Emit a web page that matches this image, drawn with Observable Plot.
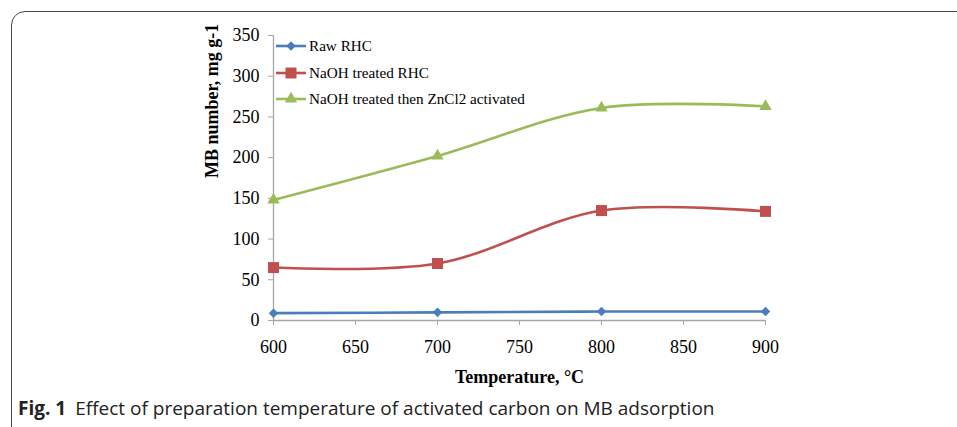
<!DOCTYPE html>
<html>
<head>
<meta charset="utf-8">
<script src="https://cdn.jsdelivr.net/npm/d3@7"></script>
<script src="https://cdn.jsdelivr.net/npm/@observablehq/plot@0.6"></script>
<style>
  html, body { margin: 0; padding: 0; background: #fff; }
  #wrap { position: relative; width: 957px; height: 427px; overflow: hidden; }
  #frame { position: absolute; left: 11px; top: 11px; width: 1200px; height: 800px;
           border: 1.3px solid #4a4a4a; border-top-left-radius: 14px; box-sizing: border-box; }
  #chart { position: absolute; left: 0; top: 0; }
  #legend { position: absolute; left: 276px; top: 35px; font-family: "Liberation Serif", serif; font-size: 15.2px; color: #000; }
  .row { position: absolute; left: 0; height: 22px; display: flex; align-items: center; white-space: nowrap; }
  .row svg { display: block; margin-right: 2px; }
  #caption { position: absolute; left: 18px; top: 395px; font-family: "Open Sans", sans-serif; font-size: 19px; color: #222; white-space: nowrap; letter-spacing: 0px; }
  #caption b { font-weight: 700; margin-right: 9px; }
</style>
</head>
<body>
<div id="wrap">
  <div id="frame"></div>
  <div id="chart"></div>
  <div id="legend"></div>
  <div id="caption"><b>Fig. 1</b>Effect of preparation temperature of activated carbon on MB adsorption</div>
</div>
<script>
const temperatures = [600, 700, 800, 900];
const seriesNames = ["Raw RHC", "NaOH treated RHC", "NaOH treated then ZnCl2 activated"];
const rawRHC = [9, 10, 11, 11];
const naohRHC = [65, 70, 135, 134];
const naohZnCl2 = [148, 202, 261, 263];
const xTicks = [600, 650, 700, 750, 800, 850, 900];
const yTicks = [0, 50, 100, 150, 200, 250, 300, 350];
const colors = ["#4a7ebb", "#c0504d", "#9bbb59"];
const symbols = ["diamond2", "square", "triangle"];
const radii = [4.3, 6.2, 4.6];

const seriesValues = [rawRHC, naohRHC, naohZnCl2];
const data = seriesValues.flatMap((vals, i) =>
  vals.map((v, j) => ({series: seriesNames[i], t: temperatures[j], v}))
);

const W = 957, H = 395;
const plot = Plot.plot({
  width: W,
  height: H,
  marginLeft: 273,
  marginRight: 192,
  marginTop: 35,
  marginBottom: H - 320,
  style: {fontFamily: "Liberation Serif, serif", fontSize: "18px", color: "#000", background: "transparent"},
  x: {domain: [600, 900]},
  y: {domain: [0, 350]},
  color: {domain: seriesNames, range: colors},
  symbol: {domain: seriesNames, range: symbols},
  marks: [
    Plot.ruleX([600], {stroke: "#a6a6a6", strokeWidth: 1.3}),
    Plot.ruleY([0], {stroke: "#a6a6a6", strokeWidth: 1.3}),
    Plot.axisY({ticks: yTicks, tickSize: 5, tickPadding: 9, stroke: "#a6a6a6", fill: "#000", label: null, fontSize: 18}),
    Plot.axisX({ticks: xTicks, tickSize: 5, tickPadding: 15, stroke: "#a6a6a6", fill: "#000", label: null, fontSize: 18, tickFormat: d3.format("d")}),
    Plot.line(data, {x: "t", y: "v", z: "series", stroke: "series", strokeWidth: 2.6, curve: "catmull-rom"}),
    ...seriesNames.map((name, i) =>
      Plot.dot(data.filter(d => d.series === name), {x: "t", y: "v", symbol: "series", fill: "series", r: radii[i], stroke: "none"})
    ),
    Plot.text(["Temperature, °C"], {frameAnchor: "bottom", dy: 62, fontWeight: "bold", fontSize: 18, fill: "#000"}),
    Plot.text(["MB number, mg g-1"], {frameAnchor: "left", dx: -61, rotate: -90, fontWeight: "bold", fontSize: 18, fill: "#000"})
  ]
});
document.getElementById("chart").appendChild(plot);

// legend
const legend = d3.select("#legend");
const rowsY = [0, 27, 53];
seriesNames.forEach((name, i) => {
  const row = legend.append("div").attr("class", "row").style("top", rowsY[i] + "px");
  const svg = row.append("svg").attr("width", 31).attr("height", 16);
  svg.append("line").attr("x1", 0).attr("x2", 30).attr("y1", 8).attr("y2", 8)
    .attr("stroke", colors[i]).attr("stroke-width", 2.6);
  const symType = i === 0 ? d3.symbolDiamond2 : i === 1 ? d3.symbolSquare : d3.symbolTriangle;
  svg.append("path").attr("transform", "translate(15,8)")
    .attr("d", d3.symbol(symType, Math.PI * radii[i] * radii[i])())
    .attr("fill", colors[i]);
  row.append("span").text(name);
});
</script>
</body>
</html>
